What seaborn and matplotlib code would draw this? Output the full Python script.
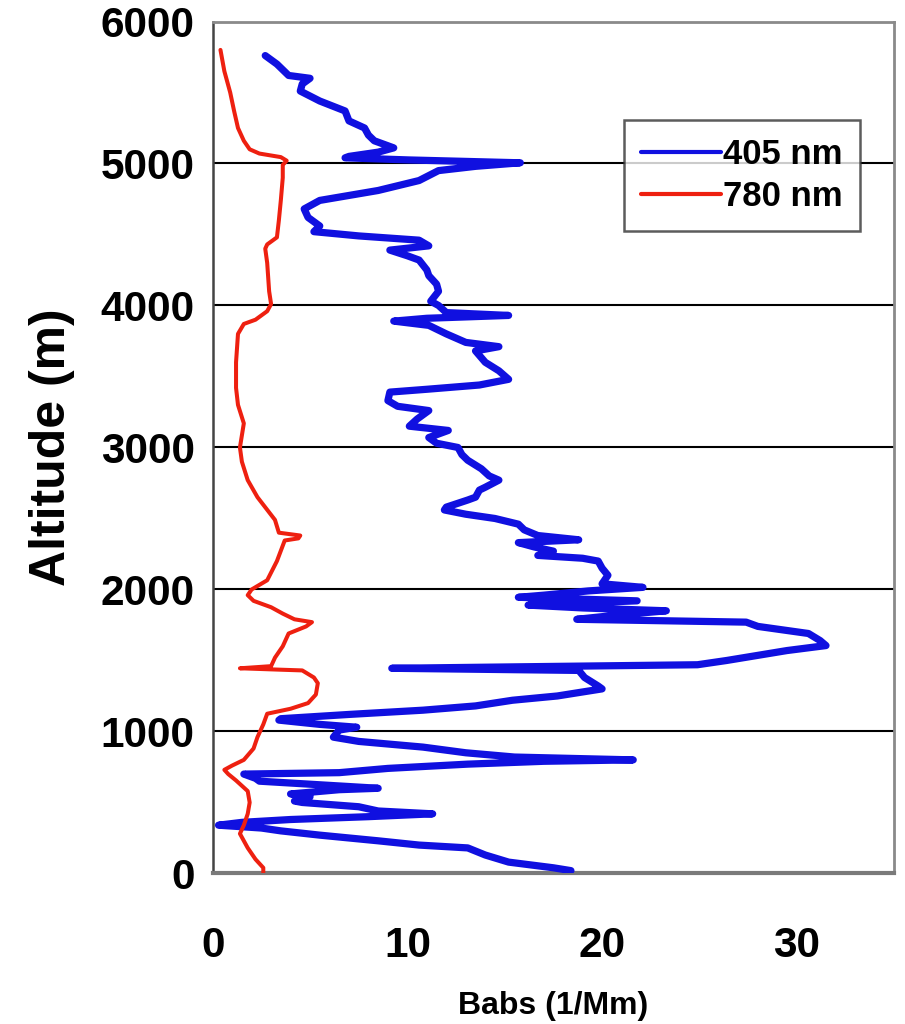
import pandas as pd
import seaborn as sns
import matplotlib.pyplot as plt

# --- dados (altitude em m, Babs em 1/Mm) ---
ALT_405 = [5760, 5700, 5620, 5600, 5560, 5510, 5440, 5370, 5300, 5250, 5200, 5160,
           5110, 5080, 5050, 5040, 5025, 5005, 4980, 4950, 4880, 4810, 4740, 4680,
           4620, 4560, 4520, 4490, 4460, 4420, 4390, 4350, 4320, 4250, 4210, 4150,
           4100, 4030, 4000, 3950, 3930, 3910, 3890, 3860, 3800, 3740, 3710, 3680,
           3600, 3540, 3480, 3440, 3410, 3390, 3330, 3290, 3260, 3200, 3150, 3120,
           3070, 3030, 3000, 2950, 2910, 2850, 2800, 2770, 2720, 2700, 2650, 2630,
           2580, 2560, 2530, 2500, 2460, 2420, 2380, 2350, 2330, 2300, 2270, 2240,
           2220, 2200, 2150, 2100, 2040, 2015, 1990, 1960, 1945, 1920, 1890, 1870,
           1850, 1820, 1790, 1770, 1740, 1690, 1640, 1605, 1570, 1500, 1470, 1445,
           1430, 1380, 1320, 1300, 1250, 1220, 1180, 1150, 1120, 1090, 1080, 1050,
           1030, 1010, 960, 930, 890, 850, 820, 800, 790, 770, 740, 710,
           700, 670, 650, 600, 590, 560, 540, 510, 500, 470, 440, 420,
           400, 380, 360, 340, 320, 300, 270, 230, 200, 180, 130, 80,
           40, 20]
BABS_405 = [2.7, 3.3, 3.9, 5.0, 4.6, 4.5, 5.5, 6.8, 7.0, 7.8, 8.0, 8.3,
            9.3, 8.5, 7.0, 6.8, 10.1, 15.8, 13.5, 11.6, 10.6, 8.5, 5.5, 4.7,
            4.9, 5.5, 5.2, 7.5, 10.6, 11.1, 9.1, 10.0, 10.6, 11.0, 11.1, 11.5,
            11.6, 11.2, 11.6, 12.0, 15.2, 11.0, 9.3, 11.1, 12.0, 13.0, 14.7, 13.5,
            14.0, 14.7, 15.2, 13.7, 11.0, 9.1, 9.0, 9.5, 11.1, 10.5, 10.1, 12.1,
            11.1, 11.5, 12.6, 12.8, 13.1, 13.8, 14.2, 14.7, 14.0, 13.7, 13.5, 13.1,
            12.0, 11.9, 13.0, 14.5, 15.7, 16.0, 16.7, 18.8, 15.7, 16.5, 17.5, 16.7,
            19.0, 19.8, 20.0, 20.3, 20.0, 22.1, 19.3, 17.0, 15.7, 21.8, 16.2, 19.0,
            23.3, 20.8, 18.7, 27.4, 28.0, 30.6, 31.2, 31.5, 29.5, 26.4, 24.9, 9.2,
            18.8, 19.1, 19.8, 20.0, 17.7, 15.4, 13.5, 10.8, 7.0, 3.5, 3.4, 5.5,
            7.4, 6.5, 6.2, 7.5, 10.8, 13.0, 15.5, 21.6, 17.0, 13.1, 9.0, 6.5,
            1.6, 2.2, 2.4, 8.5, 6.5, 4.0, 5.0, 4.2, 4.6, 7.5, 8.5, 11.3,
            8.0, 4.0, 1.5, 0.3, 2.5, 3.5, 5.5, 8.5, 10.6, 13.1, 14.0, 15.2,
            17.5, 18.4]

ALT_780 = [5800, 5650, 5500, 5370, 5250, 5160, 5100, 5070, 5045, 5020, 4990, 4900,
           4740, 4600, 4480, 4430, 4400, 4300, 4100, 4010, 3960, 3900, 3870, 3800,
           3600, 3420, 3300, 3170, 3000, 2900, 2770, 2650, 2490, 2400, 2380, 2360,
           2345, 2200, 2065, 2000, 1960, 1920, 1875, 1830, 1790, 1770, 1740, 1690,
           1600, 1520, 1460, 1445, 1435, 1430, 1380, 1340, 1260, 1200, 1160, 1125,
           1050, 960, 880, 800, 760, 730, 700, 655, 580, 500, 420, 340,
           280, 180, 100, 40, 0]
BABS_780 = [0.4, 0.6, 0.9, 1.1, 1.3, 1.6, 1.9, 2.4, 3.5, 3.8, 3.6, 3.6,
            3.5, 3.4, 3.3, 2.8, 2.7, 2.8, 2.9, 3.0, 2.8, 2.2, 1.6, 1.3,
            1.2, 1.2, 1.3, 1.6, 1.4, 1.5, 1.8, 2.3, 3.2, 3.4, 4.5, 4.4,
            3.7, 3.3, 2.8, 2.0, 1.8, 2.1, 3.0, 3.6, 4.2, 5.1, 4.8, 3.9,
            3.6, 3.2, 3.0, 1.4, 3.5, 4.6, 5.2, 5.4, 5.3, 4.9, 4.0, 2.8,
            2.6, 2.3, 2.1, 1.6, 1.0, 0.6, 0.8, 1.2, 1.8, 1.9, 1.8, 1.6,
            1.4, 1.8, 2.2, 2.6, 2.6]

SERIES = ['405 nm', '780 nm']
COLORS = {'405 nm': '#1010e0', '780 nm': '#ee2010'}
WIDTHS = {'405 nm': 5.2, '780 nm': 2.9}

df = pd.concat([
    pd.DataFrame({'Babs': BABS_405, 'Altitude': ALT_405, 'serie': SERIES[0]}),
    pd.DataFrame({'Babs': BABS_780, 'Altitude': ALT_780, 'serie': SERIES[1]}),
], ignore_index=True)

sns.set_theme(style='white')
plt.rcParams['font.family'] = ['Liberation Sans', 'DejaVu Sans']
plt.rcParams['font.weight'] = 'bold'
plt.rcParams['text.color'] = 'black'

fig = plt.figure(figsize=(9.05, 10.24), dpi=100)
ax = fig.add_axes([0.235, 0.147, 0.753, 0.832])

# perfis verticais: desenha na ordem dos pontos (sem ordenar por x)
for s in SERIES:
    sub = df[df['serie'] == s]
    sns.lineplot(data=sub, x='Babs', y='Altitude', sort=False, estimator=None,
                 color=COLORS[s], linewidth=WIDTHS[s], label=s, ax=ax, zorder=3)

ax.set_xlim(0, 35)
ax.set_ylim(0, 6000)
ax.set_xticks([0, 10, 20, 30])
ax.set_yticks(range(0, 6001, 1000))
ax.yaxis.grid(True, color='black', linewidth=1.5)
ax.xaxis.grid(False)
ax.set_axisbelow(True)

ax.tick_params(axis='both', direction='out', length=8, width=1.5, colors='#333333',
               labelcolor='black', labelsize=30.5, pad=5)
ax.tick_params(axis='x', pad=30)
for lab in ax.get_xticklabels() + ax.get_yticklabels():
    lab.set_fontweight('bold')

for side in ['top', 'right']:
    ax.spines[side].set_color('#8a8a8a')
    ax.spines[side].set_linewidth(2)
ax.spines['left'].set_color('#444444')
ax.spines['left'].set_linewidth(1.8)
ax.spines['bottom'].set_color('#7a7a7a')
ax.spines['bottom'].set_linewidth(3)

ax.set_xlabel('Babs (1/Mm)', fontsize=23, fontweight='bold', color='black', labelpad=18)
ax.set_ylabel('Altitude (m)', fontsize=36, fontweight='bold', color='black', labelpad=18)

leg = ax.legend(loc='upper right', bbox_to_anchor=(0.95, 0.884), borderaxespad=0,
                fontsize=25, frameon=True, fancybox=False, edgecolor='#333333',
                handlelength=2.3, handletextpad=0.05, borderpad=0.5, labelspacing=0.28)
leg.get_frame().set_linewidth(1.8)
for t in leg.get_texts():
    t.set_fontweight('bold')
    t.set_color('black')
for h in leg.get_lines():
    h.set_linewidth(3)

fig.savefig('out.png', dpi=100, facecolor='white')
